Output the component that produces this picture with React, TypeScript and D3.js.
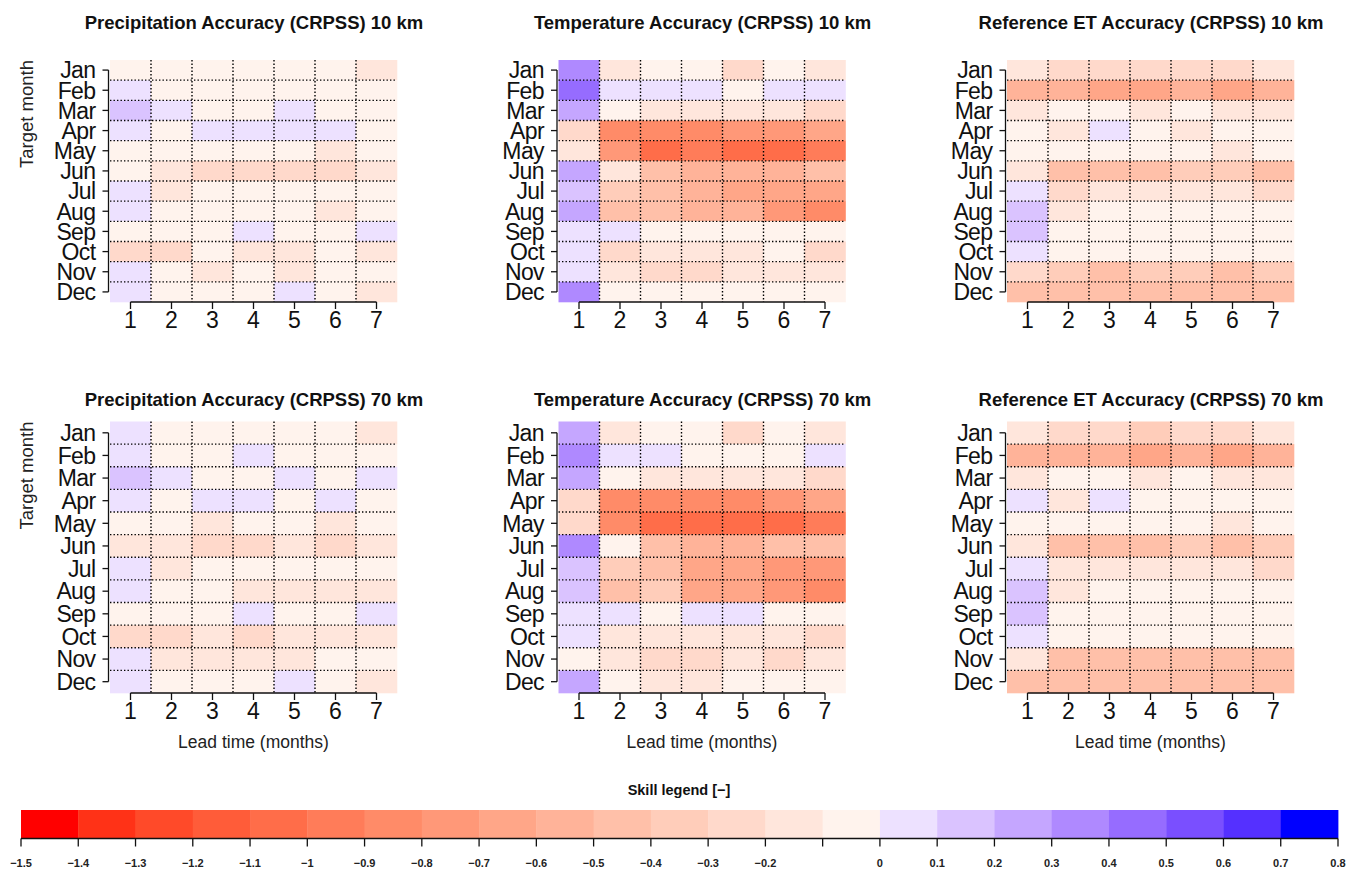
import React from "react";
import * as d3 from "d3";

const MONTHS = ["Jan", "Feb", "Mar", "Apr", "May", "Jun", "Jul", "Aug", "Sep", "Oct", "Nov", "Dec"];
const LEADS = [1, 2, 3, 4, 5, 6, 7];

const precip10 = [
  [-0.05, -0.05, -0.05, -0.05, -0.05, -0.05, -0.15],
  [0.05, -0.05, -0.05, -0.05, -0.05, -0.05, -0.05],
  [0.15, 0.05, -0.05, -0.05, 0.05, -0.05, -0.05],
  [0.05, -0.05, 0.05, 0.05, 0.05, 0.05, -0.05],
  [-0.05, -0.05, -0.05, -0.05, -0.05, -0.15, -0.05],
  [-0.05, -0.15, -0.25, -0.25, -0.25, -0.25, -0.15],
  [0.05, -0.15, -0.05, -0.05, -0.05, -0.05, -0.05],
  [0.05, -0.05, -0.05, -0.05, -0.05, -0.15, -0.05],
  [-0.05, -0.05, -0.05, 0.05, -0.05, -0.05, 0.05],
  [-0.25, -0.25, -0.05, -0.15, -0.15, -0.05, -0.15],
  [0.05, -0.05, -0.15, -0.05, -0.15, -0.05, -0.05],
  [0.05, -0.05, -0.05, -0.05, 0.05, -0.05, -0.15],
];

const temp10 = [
  [0.35, -0.15, -0.05, -0.05, -0.25, -0.05, -0.15],
  [0.45, 0.05, 0.05, 0.05, -0.05, 0.05, 0.05],
  [0.25, -0.05, -0.15, -0.15, -0.15, -0.15, -0.25],
  [-0.25, -0.85, -0.85, -0.85, -0.75, -0.75, -0.65],
  [-0.15, -0.75, -1.05, -0.95, -1.05, -1.05, -0.95],
  [0.25, -0.15, -0.45, -0.55, -0.55, -0.55, -0.45],
  [0.15, -0.35, -0.45, -0.55, -0.65, -0.65, -0.65],
  [0.25, -0.45, -0.45, -0.55, -0.55, -0.75, -0.85],
  [0.05, 0.05, -0.05, -0.05, -0.05, -0.05, -0.05],
  [0.05, -0.25, -0.15, -0.15, -0.15, -0.05, -0.25],
  [0.05, -0.15, -0.25, -0.25, -0.15, -0.15, -0.15],
  [0.35, -0.05, -0.05, -0.05, -0.05, -0.05, -0.05],
];

const et10 = [
  [-0.15, -0.25, -0.25, -0.25, -0.25, -0.25, -0.15],
  [-0.55, -0.55, -0.65, -0.65, -0.55, -0.65, -0.55],
  [-0.15, -0.05, -0.05, -0.15, -0.05, -0.15, -0.15],
  [-0.05, -0.15, 0.05, -0.05, -0.15, -0.05, -0.05],
  [-0.05, -0.05, -0.05, -0.05, -0.05, -0.15, -0.05],
  [-0.15, -0.45, -0.45, -0.45, -0.35, -0.35, -0.45],
  [0.05, -0.25, -0.15, -0.15, -0.15, -0.15, -0.25],
  [0.15, -0.15, -0.05, -0.05, -0.05, -0.05, -0.05],
  [0.15, -0.05, -0.05, -0.05, -0.05, -0.05, -0.05],
  [0.05, -0.05, -0.05, -0.05, -0.05, -0.05, -0.05],
  [-0.25, -0.35, -0.45, -0.35, -0.35, -0.45, -0.35],
  [-0.45, -0.45, -0.45, -0.45, -0.45, -0.45, -0.45],
];

const precip70 = [
  [0.05, -0.05, -0.05, -0.05, -0.05, -0.05, -0.15],
  [0.05, -0.05, -0.05, 0.05, -0.05, -0.05, -0.05],
  [0.15, 0.05, -0.05, -0.05, 0.05, -0.05, 0.05],
  [0.05, -0.05, 0.05, 0.05, -0.05, 0.05, -0.05],
  [-0.05, -0.05, -0.15, -0.05, -0.05, -0.15, -0.05],
  [-0.15, -0.15, -0.25, -0.25, -0.15, -0.25, -0.15],
  [0.05, -0.15, -0.05, -0.05, -0.05, -0.05, -0.05],
  [0.05, -0.05, -0.05, -0.15, -0.15, -0.15, -0.15],
  [-0.05, -0.05, -0.05, 0.05, -0.05, -0.05, 0.05],
  [-0.25, -0.25, -0.15, -0.25, -0.15, -0.15, -0.15],
  [0.05, -0.15, -0.15, -0.15, -0.15, -0.05, -0.05],
  [0.05, -0.05, -0.05, -0.05, 0.05, -0.05, -0.15],
];

const temp70 = [
  [0.25, -0.15, -0.05, -0.05, -0.25, -0.05, -0.15],
  [0.35, 0.05, 0.05, -0.05, -0.05, -0.05, 0.05],
  [0.25, -0.05, -0.15, -0.15, -0.15, -0.15, -0.25],
  [-0.25, -0.85, -0.85, -0.85, -0.85, -0.75, -0.65],
  [-0.25, -0.85, -1.05, -1.05, -1.05, -1.05, -0.95],
  [0.35, -0.05, -0.45, -0.55, -0.55, -0.45, -0.45],
  [0.15, -0.35, -0.45, -0.65, -0.65, -0.75, -0.75],
  [0.15, -0.45, -0.35, -0.65, -0.65, -0.75, -0.85],
  [0.05, 0.05, -0.05, 0.05, 0.05, -0.05, -0.05],
  [0.05, -0.15, -0.15, -0.15, -0.15, -0.15, -0.25],
  [-0.05, -0.15, -0.25, -0.25, -0.15, -0.25, -0.15],
  [0.25, -0.05, -0.15, -0.15, -0.05, -0.05, -0.05],
];

const et70 = [
  [-0.15, -0.25, -0.25, -0.35, -0.25, -0.25, -0.15],
  [-0.55, -0.55, -0.55, -0.65, -0.55, -0.65, -0.55],
  [-0.15, -0.05, -0.05, -0.15, -0.05, -0.15, -0.15],
  [0.05, -0.15, 0.05, -0.05, -0.05, -0.05, -0.05],
  [-0.05, -0.05, -0.05, -0.05, -0.05, -0.15, -0.05],
  [-0.15, -0.45, -0.45, -0.45, -0.35, -0.45, -0.35],
  [0.05, -0.15, -0.15, -0.15, -0.15, -0.15, -0.25],
  [0.15, -0.15, -0.05, -0.05, -0.05, -0.05, -0.05],
  [0.15, -0.05, -0.05, -0.05, -0.05, -0.05, -0.05],
  [0.05, -0.05, -0.05, -0.05, -0.05, -0.05, -0.05],
  [-0.15, -0.45, -0.45, -0.45, -0.45, -0.45, -0.45],
  [-0.45, -0.45, -0.45, -0.45, -0.45, -0.45, -0.45],
];

const PANEL_TITLES = [
  "Precipitation Accuracy (CRPSS) 10 km",
  "Temperature Accuracy (CRPSS) 10 km",
  "Reference ET Accuracy (CRPSS) 10 km",
  "Precipitation Accuracy (CRPSS) 70 km",
  "Temperature Accuracy (CRPSS) 70 km",
  "Reference ET Accuracy (CRPSS) 70 km",
];
const PANEL_DATA = [precip10, temp10, et10, precip70, temp70, et70];

const LEGEND_BREAKS = [
  -1.5, -1.4, -1.3, -1.2, -1.1, -1.0, -0.9, -0.8, -0.7, -0.6, -0.5, -0.4, -0.3, -0.2, -0.1,
  0, 0.1, 0.2, 0.3, 0.4, 0.5, 0.6, 0.7, 0.8,
];
const LEGEND_LABELS = [
  "-1.5", "-1.4", "-1.3", "-1.2", "-1.1", "-1", "-0.9", "-0.8", "-0.7", "-0.6", "-0.5", "-0.4", "-0.3", "-0.2", "",
  "0", "0.1", "0.2", "0.3", "0.4", "0.5", "0.6", "0.7", "0.8",
];

const N_RED = 15;
const N_BLUE = 8;
const redRamp = d3.interpolateLab("#ff0000", "#ffffff");
const blueRamp = d3.interpolateLab("#ffffff", "#0000ff");
const BIN_COLORS = [
  ...d3.range(N_RED).map((i) => redRamp(i / N_RED)),
  ...d3.range(N_BLUE).map((j) => blueRamp((j + 1) / N_BLUE)),
];
const colorScale = d3
  .scaleThreshold<number, string>()
  .domain(LEGEND_BREAKS.slice(1, -1))
  .range(BIN_COLORS);

const FONT = "'Liberation Sans', Arial, Helvetica, sans-serif";

const COL_X0 = [110, 558.5, 1007];
const PLOT_W = 287;
const ROWS = [
  { y0: 60, h: 242 },
  { y0: 421.5, h: 271.5 },
];

function Panel({ idx }: { idx: number }) {
  const col = idx % 3;
  const row = Math.floor(idx / 3);
  const x0 = COL_X0[col];
  const { y0, h } = ROWS[row];
  const data = PANEL_DATA[idx];
  const x = d3.scaleLinear().domain([0.5, 7.5]).range([x0, x0 + PLOT_W]);
  const y = d3.scaleLinear().domain([0.5, 12.5]).range([y0, y0 + h]);
  const cw = x(1.5) - x(0.5);
  const ch = y(1.5) - y(0.5);
  const axisX = x0 - 1.5;
  const axisY = y0 + h;
  const cx = x0 + PLOT_W / 2;
  return (
    <g>
      <text
        x={cx + 0.5}
        y={y0 - (row === 0 ? 31 : 16)}
        textAnchor="middle"
        fontFamily={FONT}
        fontWeight="bold"
        fontSize={18.5}
        fill="#111"
      >
        {PANEL_TITLES[idx]}
      </text>
      {data.map((r, ri) =>
        r.map((v, ci) => (
          <rect
            key={`${ri}-${ci}`}
            x={x(LEADS[ci] - 0.5)}
            y={y(ri + 0.5)}
            width={cw + 0.3}
            height={ch + 0.3}
            fill={colorScale(v)}
          />
        ))
      )}
      {d3.range(1.5, 7, 1).map((v) => (
        <line
          key={`v${v}`}
          x1={x(v)}
          x2={x(v)}
          y1={y0}
          y2={y0 + h}
          stroke="#000"
          strokeWidth={1.4}
          strokeDasharray="1.4,2.1"
        />
      ))}
      {d3.range(1.5, 12, 1).map((v) => (
        <line
          key={`h${v}`}
          x1={x0}
          x2={x0 + PLOT_W}
          y1={y(v)}
          y2={y(v)}
          stroke="#000"
          strokeWidth={1.4}
          strokeDasharray="1.4,2.1"
        />
      ))}
      {/* y axis */}
      <line x1={axisX} x2={axisX} y1={y(1)} y2={y(12)} stroke="#111" strokeWidth={1.3} />
      {MONTHS.map((m, i) => (
        <g key={m}>
          <line x1={axisX - 6} x2={axisX} y1={y(i + 1)} y2={y(i + 1)} stroke="#111" strokeWidth={1.3} />
          <text
            x={axisX - 13}
            y={y(i + 1)}
            dy="0.36em"
            textAnchor="end"
            fontFamily={FONT}
            fontSize={23}
            letterSpacing={-0.6}
            fill="#111"
          >
            {m}
          </text>
        </g>
      ))}
      {/* x axis */}
      <line x1={x(1)} x2={x(7)} y1={axisY} y2={axisY} stroke="#111" strokeWidth={1.3} />
      {LEADS.map((l) => (
        <g key={l}>
          <line x1={x(l)} x2={x(l)} y1={axisY} y2={axisY + 7} stroke="#111" strokeWidth={1.3} />
          <text
            x={x(l)}
            y={axisY + 18}
            dy="0.36em"
            textAnchor="middle"
            fontFamily={FONT}
            fontSize={23}
            fill="#111"
          >
            {l}
          </text>
        </g>
      ))}
      {col === 0 && (
        <text
          transform={`translate(${27},${y0}) rotate(-90)`}
          dy="0.35em"
          textAnchor="end"
          fontFamily={FONT}
          fontSize={18.5}
          fill="#222"
        >
          Target month
        </text>
      )}
      {row === 1 && (
        <text
          x={cx}
          y={axisY + 49}
          dy="0.35em"
          textAnchor="middle"
          fontFamily={FONT}
          fontSize={17.5}
          fill="#222"
        >
          Lead time (months)
        </text>
      )}
    </g>
  );
}

function Legend() {
  const lx = d3
    .scaleLinear()
    .domain([0, LEGEND_BREAKS.length - 1])
    .range([21, 1338]);
  const top = 810;
  const bottom = 838.5;
  return (
    <g>
      <text
        x={679}
        y={790}
        dy="0.35em"
        textAnchor="middle"
        fontFamily={FONT}
        fontWeight="bold"
        fontSize={14.5}
        fill="#111"
      >
        Skill legend [−]
      </text>
      {BIN_COLORS.map((c, i) => (
        <rect key={i} x={lx(i)} y={top} width={lx(i + 1) - lx(i) + 0.4} height={bottom - top} fill={c} />
      ))}
      <line x1={lx(0)} x2={lx(LEGEND_BREAKS.length - 1)} y1={bottom} y2={bottom} stroke="#111" strokeWidth={1.3} />
      {LEGEND_BREAKS.map((b, i) => (
        <g key={i}>
          <line x1={lx(i)} x2={lx(i)} y1={bottom} y2={bottom + 8} stroke="#111" strokeWidth={1.3} />
          <text
            x={lx(i)}
            y={863}
            dy="0.35em"
            textAnchor="middle"
            fontFamily={FONT}
            fontWeight="bold"
            fontSize={11}
            fill="#222"
          >
            {LEGEND_LABELS[i].replace("-", "−")}
          </text>
        </g>
      ))}
    </g>
  );
}

export default function App() {
  return (
    <svg
      width={1349}
      height={869}
      viewBox="0 0 1349 869"
      style={{ position: "absolute", left: 0, top: 0, background: "#fff" }}
    >
      <rect x={0} y={0} width={1349} height={869} fill="#fff" />
      {PANEL_DATA.map((_, i) => (
        <Panel key={i} idx={i} />
      ))}
      <Legend />
    </svg>
  );
}
